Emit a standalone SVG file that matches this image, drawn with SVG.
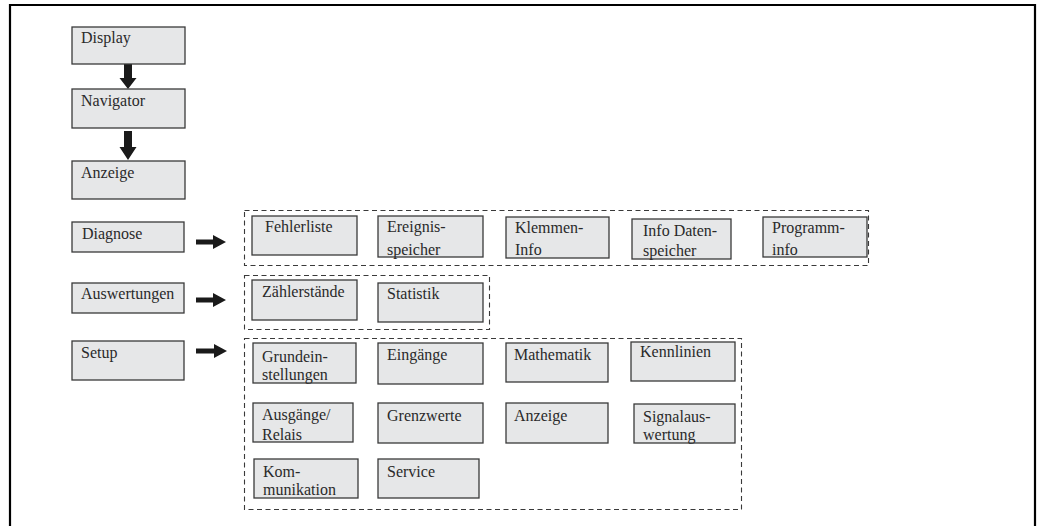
<svg xmlns="http://www.w3.org/2000/svg" width="1037" height="526" viewBox="0 0 1037 526">
<style>
.n{fill:#e6e7e8;stroke:#3a3a3a;stroke-width:1.3}
.g{fill:none;stroke:#3a3a3a;stroke-width:1.1;stroke-dasharray:5 3.5}
text{font-family:"Liberation Serif","DejaVu Serif",serif;font-size:16px;fill:#2a2a2a}
.a{fill:#1a1a1a}
</style>
<rect width="1037" height="526" fill="#fff"/>
<path d="M10,526 V5 H1035 V526" fill="none" stroke="#000" stroke-width="2.2"/>
<g id="groups">
<rect class="g" x="244.5" y="210.5" width="624" height="55"/>
<rect class="g" x="244.5" y="275.5" width="245" height="54"/>
<rect class="g" x="244.5" y="338.5" width="497" height="171"/>
</g>
<g id="connectors">
<path class="a" d="M124,64 H132 V78 H136.5 L128,89 L119.5,78 H124 Z"/>
<path class="a" d="M124,131 H132 V147 H136.5 L128,160 L119.5,147 H124 Z"/>
<path class="a" d="M196,239.5 H213 V235 L226,242 L213,249 V244.5 H196 Z"/>
<path class="a" d="M196,297.5 H213 V293 L226,300 L213,307 V302.5 H196 Z"/>
<path class="a" d="M196,348.5 H214 V344 L227,351 L214,358 V353.5 H196 Z"/>
</g>
<g id="display"><rect class="n" x="72" y="27" width="113" height="37"/><text x="81" y="43">Display</text></g>
<g id="navigator"><rect class="n" x="72" y="89" width="113" height="39"/><text x="81" y="106">Navigator</text></g>
<g id="anzeige-main"><rect class="n" x="72" y="161" width="113" height="38"/><text x="81" y="178">Anzeige</text></g>
<g id="diagnose"><rect class="n" x="72" y="222" width="112" height="30"/><text x="82" y="239">Diagnose</text></g>
<g id="auswertungen"><rect class="n" x="72" y="283" width="112" height="30"/><text x="81" y="299">Auswertungen</text></g>
<g id="setup"><rect class="n" x="72" y="341" width="112" height="39"/><text x="81" y="358">Setup</text></g>
<g id="fehlerliste"><rect class="n" x="252" y="216" width="105" height="39"/><text x="265" y="232">Fehlerliste</text></g>
<g id="ereignisspeicher"><rect class="n" x="378" y="216" width="105" height="41"/><text x="387" y="232">Ereignis-</text><text x="387" y="255">speicher</text></g>
<g id="klemmeninfo"><rect class="n" x="506" y="217" width="103" height="41"/><text x="515" y="233">Klemmen-</text><text x="515" y="255">Info</text></g>
<g id="infodatenspeicher"><rect class="n" x="632" y="219" width="99" height="40"/><text x="643" y="236">Info Daten-</text><text x="643" y="256">speicher</text></g>
<g id="programminfo"><rect class="n" x="763" y="217" width="104" height="40"/><text x="772" y="233">Programm-</text><text x="772" y="255">info</text></g>
<g id="zaehlerstaende"><rect class="n" x="252" y="280" width="105" height="40"/><text x="262" y="297">Zählerstände</text></g>
<g id="statistik"><rect class="n" x="378" y="283" width="105" height="39"/><text x="387" y="299">Statistik</text></g>
<g id="grundeinstellungen"><rect class="n" x="253" y="343" width="103" height="40"/><text x="262" y="362">Grundein-</text><text x="262" y="380">stellungen</text></g>
<g id="eingaenge"><rect class="n" x="378" y="343" width="105" height="41"/><text x="387" y="360">Eingänge</text></g>
<g id="mathematik"><rect class="n" x="506" y="343" width="102" height="39"/><text x="514" y="360">Mathematik</text></g>
<g id="kennlinien"><rect class="n" x="631" y="342" width="104" height="39"/><text x="640" y="357">Kennlinien</text></g>
<g id="ausgaenge"><rect class="n" x="253" y="403" width="100" height="39"/><text x="262" y="420">Ausgänge/</text><text x="262" y="440">Relais</text></g>
<g id="grenzwerte"><rect class="n" x="378" y="403" width="105" height="40"/><text x="387" y="421">Grenzwerte</text></g>
<g id="anzeige"><rect class="n" x="506" y="403" width="102" height="40"/><text x="514" y="421">Anzeige</text></g>
<g id="signalauswertung"><rect class="n" x="634" y="404" width="101" height="39"/><text x="643" y="422">Signalaus-</text><text x="643" y="440">wertung</text></g>
<g id="kommunikation"><rect class="n" x="254" y="459" width="104" height="39"/><text x="263" y="477">Kom-</text><text x="263" y="495">munikation</text></g>
<g id="service"><rect class="n" x="378" y="459" width="101" height="39"/><text x="387" y="477">Service</text></g>
</svg>
